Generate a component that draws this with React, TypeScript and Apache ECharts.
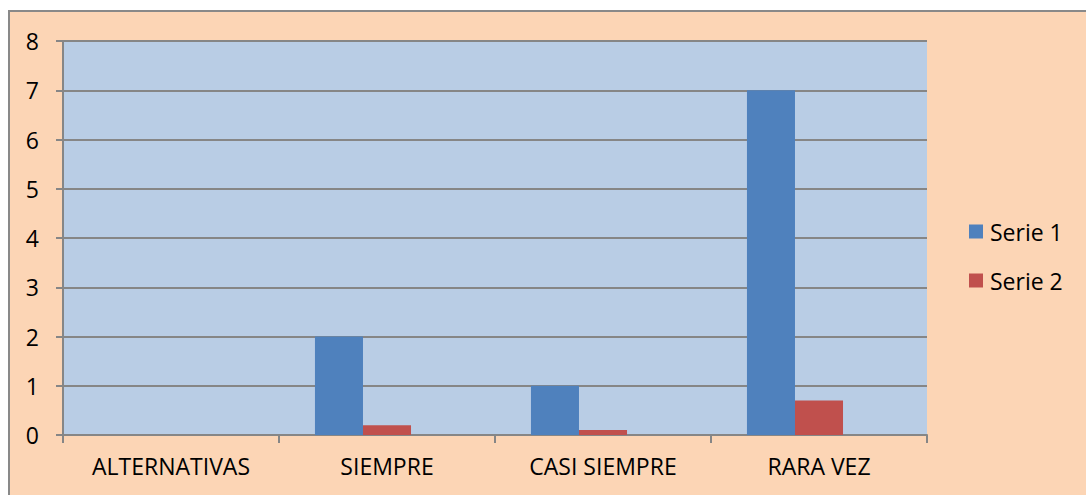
import React, { useEffect, useRef } from "react";
import * as echarts from "echarts";

const categories = ["ALTERNATIVAS", "SIEMPRE", "CASI SIEMPRE", "RARA VEZ"];
const serie1 = [null, 2, 1, 7];
const serie2 = [null, 0.2, 0.1, 0.7];
const serie3 = [null, null, null, null];
const yTicks = { min: 0, max: 8, interval: 1 };

const FONT = "Open Sans";

export default function App() {
  const ref = useRef<HTMLDivElement>(null);
  useEffect(() => {
    if (!ref.current) return;
    const chart = echarts.init(ref.current, undefined, { renderer: "svg" });
    chart.setOption({
      animation: false,
      backgroundColor: "#FCD5B5",
      textStyle: { fontFamily: FONT, color: "#000" },
      grid: {
        left: 53,
        top: 29,
        right: 159,
        bottom: 60,
        show: true,
        backgroundColor: "#B9CDE5",
        borderWidth: 0,
      },
      legend: {
        data: ["Serie 1", "Serie 2"],
        orient: "vertical",
        left: 954,
        top: 203,
        itemWidth: 14,
        itemHeight: 14,
        itemGap: 26,
        icon: "rect",
        textStyle: { fontFamily: FONT, fontSize: 23, lineHeight: 22, color: "#000", padding: [0, 0, 0, 2] },
      },
      xAxis: {
        type: "category",
        data: categories,
        axisLine: { lineStyle: { color: "#868686", width: 2 } },
        axisTick: { show: true, length: 8, lineStyle: { color: "#868686", width: 2 } },
        axisLabel: { color: "#000", fontSize: 23, fontFamily: FONT, margin: 19 },
      },
      yAxis: {
        type: "value",
        min: yTicks.min,
        max: yTicks.max,
        interval: yTicks.interval,
        axisLine: { show: true, lineStyle: { color: "#868686", width: 2 } },
        axisTick: { show: true, length: 7, lineStyle: { color: "#868686", width: 2 } },
        axisLabel: { color: "#000", fontSize: 23, fontFamily: FONT, margin: 24 },
        splitLine: { lineStyle: { color: "#868686", width: 2 } },
      },
      series: [
        {
          name: "Serie 1",
          type: "bar",
          data: serie1,
          itemStyle: { color: "#4F81BD" },
          barGap: "0%",
          barCategoryGap: "33.3%",
        },
        {
          name: "Serie 2",
          type: "bar",
          data: serie2,
          itemStyle: { color: "#C0504D" },
          barGap: "0%",
          barCategoryGap: "33.3%",
        },
        {
          name: "Serie 3",
          type: "bar",
          data: serie3,
          itemStyle: { color: "#9BBB59" },
          barGap: "0%",
          barCategoryGap: "33.3%",
        },
      ],
    });
    return () => chart.dispose();
  }, []);
  return (
    <div
      style={{
        position: "absolute",
        left: 8,
        top: 10,
        width: 1078,
        height: 485,
        boxSizing: "border-box",
        borderTop: "2px solid #898989",
        borderLeft: "2px solid #898989",
        background: "#FCD5B5",
      }}
    >
      <div ref={ref} style={{ width: 1076, height: 483 }} />
    </div>
  );
}
